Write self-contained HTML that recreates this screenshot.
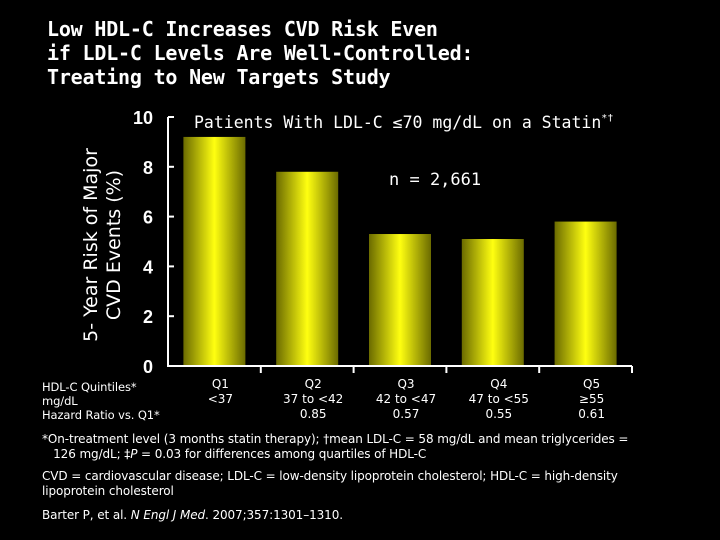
<!DOCTYPE html>
<html><head><meta charset="utf-8"><style>
body{margin:0;background:#000;width:720px;height:540px;overflow:hidden;font-family:"DejaVu Sans","Liberation Sans",sans-serif;color:#fff}
.t{position:absolute;left:47px;top:17px;font-family:"DejaVu Sans Mono","Liberation Mono",monospace;font-weight:bold;font-size:20px;line-height:24px;color:#fff;letter-spacing:-0.2px}
.fn{position:absolute;left:42px;font-size:12px;line-height:15px;color:#fff;font-family:"DejaVu Sans",sans-serif;letter-spacing:-0.1px}
</style></head><body>
<div class="t">Low HDL-C Increases CVD Risk Even<br>if LDL-C Levels Are Well-Controlled:<br>Treating to New Targets Study</div>
<svg id="c" width="720" height="540" style="position:absolute;left:0;top:0">
<defs><linearGradient id="g" x1="0" x2="1" y1="0" y2="0">
<stop offset="0" stop-color="#6b6b00"/><stop offset="0.5" stop-color="#ffff10"/><stop offset="1" stop-color="#6b6b00"/></linearGradient></defs>
</svg>
<div class="fn" style="top:380px;line-height:14px;font-size:11.5px">HDL-C Quintiles*<br>mg/dL<br>Hazard Ratio vs. Q1*</div>
<div class="fn" style="top:432px">*On-treatment level (3 months statin therapy); †mean LDL-C = 58 mg/dL and mean triglycerides =<br>&nbsp;&nbsp;&nbsp;126 mg/dL; ‡<i>P</i> = 0.03 for differences among quartiles of HDL-C</div>
<div class="fn" style="top:469px">CVD = cardiovascular disease; LDL-C = low-density lipoprotein cholesterol; HDL-C = high-density<br>lipoprotein cholesterol</div>
<div class="fn" style="top:508px">Barter P, et al. <i>N Engl J Med</i>. 2007;357:1301–1310.</div>
<script>
const categories=["Q1","Q2","Q3","Q4","Q5"];
const ranges=["<37","37 to <42","42 to <47","47 to <55","≥55"];
const hazard=["","0.85","0.57","0.55","0.61"];
const values=[9.2,7.8,5.3,5.1,5.8];
const yTicks=[0,2,4,6,8,10];
const svg=document.getElementById('c');const NS='http://www.w3.org/2000/svg';
const x0=168,x1=632,yb=366,yt=117,ymax=10;
const y=v=>yb-(v/ymax)*(yb-yt);
const bw=(x1-x0)/categories.length;
const xc=i=>x0+bw*(i+0.5);
function mk(t,a,txt){const e=document.createElementNS(NS,t);for(const k in a)e.setAttribute(k,a[k]);if(txt!==undefined)e.textContent=txt;svg.appendChild(e);return e;}
values.forEach((v,i)=>{const r=mk('rect',{x:xc(i)-31,y:y(v),width:62,height:yb-y(v),fill:'url(#g)'});

});
const ax=mk('path',{d:`M${x0},${yt} V${yb} H${x1}`,stroke:'#fff','stroke-width':2,fill:'none'});


yTicks.forEach(t=>{mk('line',{x1:x0,x2:x0+6,y1:y(t),y2:y(t),stroke:'#fff','stroke-width':2});
const l=mk('text',{x:153,y:y(t)+7,'text-anchor':'end','font-size':18,'font-weight':'bold',fill:'#fff','font-family':'Liberation Sans'},t);

});
categories.forEach((c,i)=>{const tx=x0+bw*(i+1);mk('line',{x1:tx,x2:tx,y1:yb,y2:yb+7,stroke:'#fff','stroke-width':2});
const lines=[c,ranges[i],hazard[i]];
lines.forEach((s,j)=>{if(!s)return;const l=mk('text',{x:xc(i)+6,y:388+j*15,'text-anchor':'middle','font-size':12,fill:'#fff','font-family':'DejaVu Sans'},s);

});});
const yt2=mk('text',{transform:'translate(97,245) rotate(-90)','text-anchor':'middle','font-size':19,fill:'#fff','font-family':'DejaVu Sans'});


yt2.innerHTML='<tspan x="0" dy="0">5- Year Risk of Major</tspan><tspan x="0" dy="23">CVD Events (%)</tspan>';
const st=mk('text',{x:194,y:128,'font-size':16.5,fill:'#fff','font-family':'DejaVu Sans Mono'});
st.innerHTML='Patients With LDL-C ≤70 mg/dL on a Statin<tspan font-size="10" dy="-7">*†</tspan>';


const n=mk('text',{x:389,y:185,'font-size':17,fill:'#fff','font-family':'DejaVu Sans Mono'},'n = 2,661');


</script>
</body></html>
